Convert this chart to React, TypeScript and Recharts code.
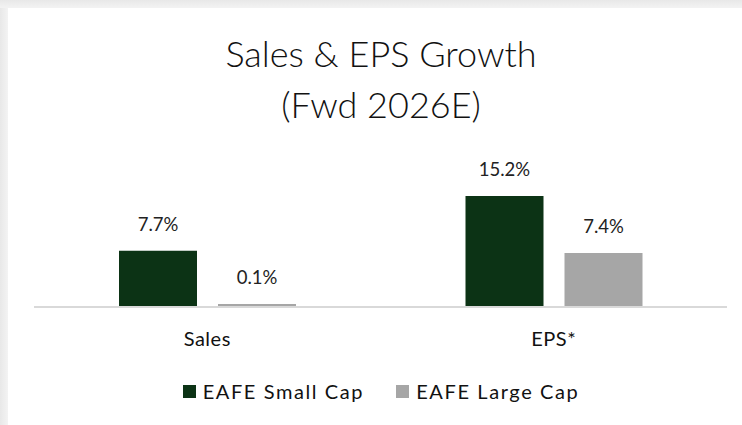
import React from "react";
import { BarChart, Bar, XAxis, YAxis, LabelList } from "recharts";

const categories = ["Sales", "EPS*"];
const smallCap = [7.7, 15.2];
const largeCap = [0.1, 7.4];
const seriesNames = ["EAFE Small Cap", "EAFE Large Cap"];
const titleLines = ["Sales & EPS Growth", "(Fwd 2026E)"];

const data = categories.map((c, i) => ({ category: c, small: smallCap[i], large: largeCap[i] }));

const FONT = "Lato, 'Open Sans', sans-serif";
const GREEN = "#0c3315";
const GRAY = "#a6a6a6";

const fmt = (v: any) => `${Number(v).toFixed(1)}%`;

export default function App() {
  return (
    <div style={{ position: "fixed", left: 0, top: 0, width: 742, height: 425, background: "linear-gradient(90deg, #e8e8e8 0px, #f3f3f3 8px)", overflow: "hidden" }}>
      <div style={{ position: "absolute", left: 0, top: 0, width: 742, height: 8, background: "linear-gradient(180deg, #e8e8e8, #f3f3f3)" }} />
      <div style={{ position: "absolute", left: 8, top: 8, width: 750, height: 420, background: "#fff", fontFamily: FONT }}>
        <div style={{ position: "absolute", left: 0, width: 746, top: 20, textAlign: "center", fontSize: 36, fontWeight: 300, color: "#111", lineHeight: "51px" }}>
          <div>{titleLines[0]}</div>
          <div>{titleLines[1]}</div>
        </div>
        <BarChart
          width={734}
          height={417}
          data={data}
          margin={{ top: 153, right: 15, left: 26, bottom: 88 }}
          barCategoryGap="24.4%"
          barGap={21}
        >
          <YAxis hide domain={[0, 20]} />
          <XAxis
            dataKey="category"
            axisLine={{ stroke: "#d9d9d9", strokeWidth: 2 }}
            tickLine={false}
            tickSize={0}
            tickMargin={25}
            tick={{ fontSize: 20, fill: "#111", fontFamily: FONT, letterSpacing: 0.5 }}
          />
          <Bar dataKey="small" name={seriesNames[0]} fill={GREEN} barSize={78} minPointSize={3} isAnimationActive={false}>
            <LabelList dataKey="small" position="top" offset={20} formatter={fmt} style={{ fontSize: 18.5, fill: "#222", fontFamily: FONT }} />
          </Bar>
          <Bar dataKey="large" name={seriesNames[1]} fill={GRAY} barSize={78} minPointSize={3} isAnimationActive={false}>
            <LabelList dataKey="large" position="top" offset={20} formatter={fmt} style={{ fontSize: 18.5, fill: "#222", fontFamily: FONT }} />
          </Bar>
        </BarChart>
        <div style={{ position: "absolute", left: 0, top: 371, width: 746, display: "flex", justifyContent: "center", gap: 32, fontSize: 20, color: "#111", letterSpacing: 1.6 }}>
          {seriesNames.map((n, i) => (
            <div key={n} style={{ display: "flex", alignItems: "center" }}>
              <span style={{ display: "inline-block", width: 13, height: 13, background: i === 0 ? GREEN : GRAY, marginRight: 7 }} />
              <span>{n}</span>
            </div>
          ))}
        </div>
      </div>
    </div>
  );
}
